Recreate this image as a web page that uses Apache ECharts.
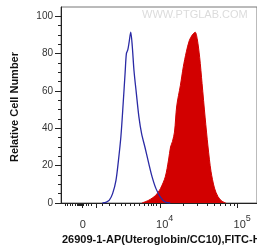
<!DOCTYPE html>
<html>
<head>
<meta charset="utf-8">
<script src="https://cdn.jsdelivr.net/npm/echarts@6/dist/echarts.min.js"></script>
<style>
  html, body { margin: 0; padding: 0; background: #fff; }
  #chart { width: 257px; height: 248px; }
</style>
</head>
<body>
<div id="chart"></div>
<script>
// x positions are in display decades (10^4 -> 4, 10^5 -> 5, "0" sits at 3)
const isoX = [3.255, 3.306, 3.344, 3.386, 3.429, 3.462, 3.493, 3.522, 3.548, 3.564, 3.582, 3.599, 3.620, 3.640, 3.662, 3.692, 3.726, 3.761, 3.803, 3.854, 3.896, 3.946, 4.003, 4.066, 4.130];
const isoY = [0, 0.5, 1.5, 5, 12, 23, 35.5, 53, 70, 80, 82, 86, 91.5, 84, 71, 59, 46, 37, 30, 21, 14, 7.7, 3.2, 0.5, 0];

const stainX = [3.764, 3.853, 3.939, 4.003, 4.066, 4.108, 4.134, 4.159, 4.185, 4.214, 4.261, 4.299, 4.338, 4.376, 4.414, 4.452, 4.478, 4.510, 4.541, 4.580, 4.618, 4.656, 4.701, 4.745, 4.796, 4.847];
const stainY = [0, 1.5, 4, 7.7, 14, 23, 30, 33, 38, 52, 63, 73, 81, 87, 90, 91.5, 88, 78, 64, 46, 30, 17, 8, 3.5, 1, 0];

// axis ticks / labels
const xLabelPos = [3, 4, 5];
const xLabelText = { 3: '0', 4: '4', 5: '5' };
const xMajorTicks = [3, 3.178, 4, 5];
const xMinorTicks = [2.771, 2.803, 2.834, 2.866, 2.898, 2.936, 2.947, 2.958, 2.969, 2.98, 3.013, 3.045, 3.076, 3.108,
  3.255, 3.344, 3.420, 3.497, 3.554, 3.611, 3.662, 3.726, 3.790, 3.841, 3.885, 3.917, 3.949,
  4.301, 4.477, 4.602, 4.699, 4.778, 4.845, 4.903, 4.954];
const yMajorTicks = [0, 20, 40, 60, 80, 100];
const yMinorTicks = [5, 10, 15, 25, 30, 35, 45, 50, 55, 65, 70, 75, 85, 90, 95];

const X_MIN = 2.72, X_MAX = 5.25, Y_MAX = 105;

const pairs = (xs, ys) => xs.map((x, i) => [x, ys[i]]);

const chart = echarts.init(document.getElementById('chart'), null, { renderer: 'canvas' });

const option = {
  backgroundColor: '#fff',
  animation: false,
  grid: {
    left: 61,
    top: 7,
    width: 198.6,
    bottom: 45,
    show: true,
    borderColor: '#777',
    borderWidth: 1,
  },
  xAxis: [
    {
      type: 'value',
      min: X_MIN,
      max: X_MAX,
      splitLine: { show: false },
      axisLine: { lineStyle: { color: '#222', width: 1 } },
      axisTick: { customValues: xMajorTicks, length: 5, lineStyle: { color: '#222' } },
      axisLabel: {
        customValues: xLabelPos,
        margin: 11,
        formatter: (v) => {
          const k = Math.round(v);
          return k === 3 ? '{z|0}' : '{b|10}{sup|' + xLabelText[k] + '}';
        },
        rich: {
          z: { fontSize: 11, color: '#333', fontFamily: 'Liberation Sans', lineHeight: 16, verticalAlign: 'bottom' },
          b: { fontSize: 11, color: '#333', fontFamily: 'Liberation Sans', lineHeight: 16, verticalAlign: 'bottom', padding: [0, 0, 0, 9] },
          sup: { fontSize: 9, color: '#333', fontFamily: 'Liberation Sans', lineHeight: 9, verticalAlign: 'top' },
        },
      },
    },
    {
      type: 'value',
      min: X_MIN,
      max: X_MAX,
      position: 'bottom',
      splitLine: { show: false },
      axisLine: { show: false },
      axisTick: { customValues: xMinorTicks, length: 3, lineStyle: { color: '#222' } },
      axisLabel: { show: false },
    },
  ],
  yAxis: [
    {
      type: 'value',
      min: 0,
      max: Y_MAX,
      splitLine: { show: false },
      axisLine: { show: true, lineStyle: { color: '#222', width: 1 } },
      axisTick: { show: true, customValues: yMajorTicks, length: 6, lineStyle: { color: '#222' } },
      axisLabel: {
        customValues: yMajorTicks,
        margin: 8,
        fontSize: 10,
        color: '#333',
        fontFamily: 'Liberation Sans',
      },
    },
    {
      type: 'value',
      min: 0,
      max: Y_MAX,
      position: 'left',
      splitLine: { show: false },
      axisLine: { show: false },
      axisTick: { show: true, customValues: yMinorTicks, length: 3, lineStyle: { color: '#222' } },
      axisLabel: { show: false },
    },
  ],
  graphic: [
    {
      type: 'text',
      left: 142,
      top: 9,
      style: {
        text: 'WWW.PTGLAB.COM',
        fontSize: 11,
        fontFamily: 'Liberation Sans',
        fill: '#dcdcdc',
      },
    },
    {
      type: 'text',
      x: 15,
      y: 107,
      rotation: Math.PI / 2,
      style: {
        text: 'Relative Cell Number',
        fontSize: 11,
        fontWeight: 'bold',
        fontFamily: 'Liberation Sans',
        fill: '#111',
        align: 'center',
        verticalAlign: 'middle',
      },
    },
    {
      type: 'text',
      x: 62,
      y: 240,
      style: {
        text: '26909-1-AP(Uteroglobin/CC10),FITC-H',
        fontSize: 11,
        fontWeight: 'bold',
        fontFamily: 'Liberation Sans',
        fill: '#111',
        align: 'left',
        verticalAlign: 'middle',
      },
    },
  ],
  series: [
    {
      name: 'stained',
      type: 'line',
      smooth: 0.3,
      showSymbol: false,
      lineStyle: { color: '#d20000', width: 1 },
      areaStyle: { color: '#d20000', opacity: 1 },
      data: pairs(stainX, stainY),
    },
    {
      name: 'isotype',
      type: 'line',
      smooth: 0.3,
      showSymbol: false,
      lineStyle: { color: '#2a2aa5', width: 1.3 },
      data: pairs(isoX, isoY),
    },
  ],
};

chart.setOption(option);
</script>
</body>
</html>
